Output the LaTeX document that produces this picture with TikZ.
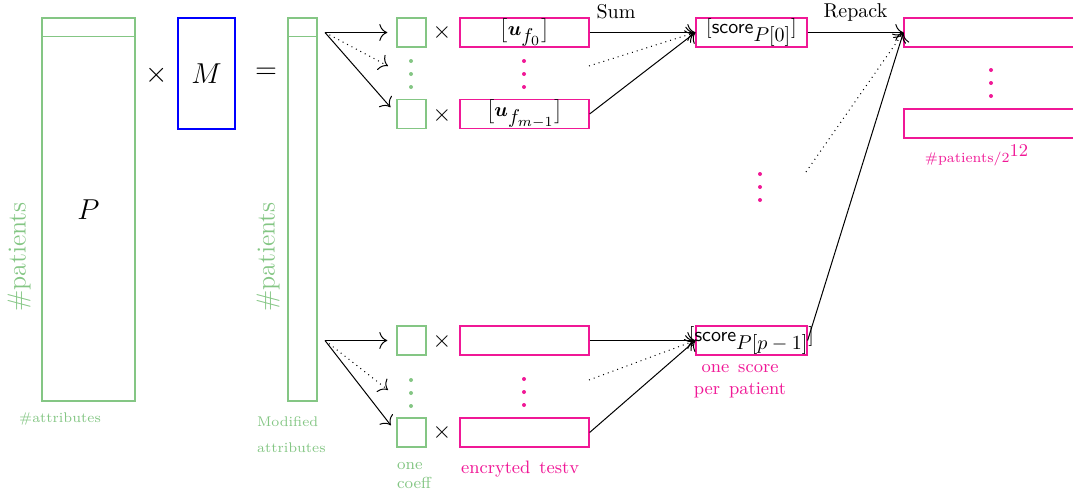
\documentclass[tikz,border=0pt]{standalone}
\usepackage{xcolor}
\usepackage{amsmath,amssymb}
\usepackage{tikz}
\usetikzlibrary{arrows, arrows.meta, shapes, calc}
\definecolor{attrgreen}{RGB}{132,198,132}
\definecolor{encpink}{RGB}{240,24,150}
\tikzset{>={To[scale=1.5]}, font=\small}
\tikzset{matbox/.style={draw=attrgreen, semithick, inner sep=0pt, minimum width=46.5pt, minimum height=191.5pt},
  coeffbox/.style={draw=attrgreen, semithick, inner sep=0pt, minimum size=14.5pt},
  encbox/.style={draw=encpink, semithick, inner sep=0pt, minimum width=64.5pt, minimum height=14.5pt},
  scorebox/.style={draw=encpink, semithick, inner sep=0pt, minimum width=55.5pt, minimum height=14.5pt},
  packbox/.style={draw=encpink, semithick, inner sep=0pt, minimum width=93pt, minimum height=14.5pt},
  grntext/.style={text=attrgreen, font=\scriptsize},
  pnktext/.style={text=encpink, font=\footnotesize},
  link/.style={->, line width=0.5pt}}

\begin{document}
\begin{tikzpicture}[x=0.5pt, y=-0.5pt]
      \useasboundingbox (0,0) rectangle (1073,498);
      % matrices
      \node[matbox] (P) at (88.5,209.5) {};
      \draw[attrgreen, semithick] ([yshift=-9.5pt]P.north west) -- ([yshift=-9.5pt]P.north east);
      \node[font=\Large] (Plab) at (P) {$P$};
      \node[font=\Large] (times) at (157,75) {$\times$};
      \node[draw=blue, semithick, inner sep=0pt, minimum width=28.5pt, minimum height=55.5pt,
        font=\Large] (M) at (206.5,73.5) {$M$};
      \node[font=\Large] (eq) at (266,73) {$=$};
      \node[matbox, minimum width=14.5pt] (Q) at (302.5,209.5) {};
      \draw[attrgreen, semithick] ([yshift=-9.5pt]Q.north west) -- ([yshift=-9.5pt]Q.north east);
      \node[text=attrgreen, font=\fontsize{13}{15}\selectfont, rotate=90] (np1) at (19,257) {\#patients};
      \node[text=attrgreen, font=\fontsize{13}{15}\selectfont, rotate=90] (np2) at (268,257) {\#patients};
      \node[grntext] (na) at (60,419) {\#attributes};
      \node[grntext, align=left, anchor=north west] (nm) at (250,410) {Modified\\[5pt]attributes};

      % top half
      \coordinate (f0) at (325,32.5);
      \node[coeffbox] (s0) at (411.5,32.5) {};
      \node[coeffbox] (s1) at (411.5,114) {};
      \node[font=\large] (x0) at (442,33) {$\times$};
      \node[font=\large] (x1) at (442,115) {$\times$};
      \node[encbox] (e0) at (524.5,32.5) {};
      \node[encbox] (e1) at (524.5,114) {};
      \node[font=\normalsize] (u0) at (e0) {$\big[\boldsymbol{u}_{\textstyle f_0}\big]$};
      \node[font=\normalsize] (u1) at (e1) {$\big[\boldsymbol{u}_{\textstyle f_{m-1}}\big]$};
      \coordinate (d0) at (388,66);
      \coordinate (ed0) at (589,66);
      \draw[link, shorten >=4.5pt] (f0) -- (s0.west);
      \draw[link, shorten >=4.5pt] (f0) -- (s1.west);
      \draw[link, dotted] (f0) -- (d0);
      \node[scorebox] (c0) at (751.5,32.5) {};
      \node[font=\normalsize] (t0) at (c0) {$[\mathsf{score}_{\textstyle P[0]}]$};
      \draw[link] (e0.east) -- node[above, pos=.25, yshift=3pt, font=\normalsize] {Sum} (c0.west);
      \draw[link] (e1.east) -- (c0.west);
      \draw[link, dotted] (ed0) -- (c0.west);

      % bottom half
      \coordinate (f1) at (325,340.5);
      \node[coeffbox] (s2) at (411.5,340.5) {};
      \node[coeffbox] (s3) at (411.5,432.5) {};
      \node[font=\large] (x2) at (442,341) {$\times$};
      \node[font=\large] (x3) at (442,432) {$\times$};
      \node[encbox] (e2) at (524.5,340.5) {};
      \node[encbox] (e3) at (524.5,432.5) {};
      \coordinate (d1) at (388,390);
      \coordinate (ed1) at (589,380);
      \draw[link, shorten >=4.5pt] (f1) -- (s2.west);
      \draw[link, shorten >=4.5pt] (f1) -- (s3.west);
      \draw[link, dotted] (f1) -- (d1);
      \node[scorebox] (c1) at (751.5,340.5) {};
      \node[font=\normalsize] (t1) at (c1) {$[\mathsf{score}_{\textstyle P[p-1]}]$};
      \draw[link] (e2.east) -- (c1.west);
      \draw[link] (e3.east) -- (c1.west);
      \draw[link, dotted] (ed1) -- (c1.west);
      \node[grntext, font=\footnotesize, align=left, anchor=north west] (oc) at (390,455) {one\\coeff};
      \node[pnktext, anchor=north west, font=\small] (et) at (454,454) {encryted\enspace testv};
      \node[pnktext, align=center, font=\small] (os) at (740,381) {one\enspace score\\per\enspace patient};

      % repack
      \node[packbox] (r0) at (997,32.5) {};
      \node[packbox] (r1) at (997,123.5) {};
      \node[pnktext, font=\scriptsize] (nr) at (977,155) {\#patients/2$^{\text{\small 12}}$};
      \coordinate (cd) at (806,172);
      \draw[link] (c0.east) -- node[above, yshift=2pt, font=\normalsize] {Repack} (r0.west);
      \draw[link, dotted] (cd) -- (r0.west);
      \draw[link] (c1.east) -- (r0.west);

      % dots
      \foreach \y in {61,74,87} {
        \fill[attrgreen] (411,\y) circle (1pt);
        \fill[encpink] (524,\y) circle (1pt);}
      \foreach \y in {380,393,406} {
        \fill[attrgreen] (411,\y) circle (1pt);
        \fill[encpink] (524,\y-1) circle (1pt);}
      \foreach \y in {70,83,96} \fill[encpink] (991,\y) circle (1pt);
      \foreach \y in {174,187,200} \fill[encpink] (760,\y) circle (1pt);
    \end{tikzpicture}
\end{document}
